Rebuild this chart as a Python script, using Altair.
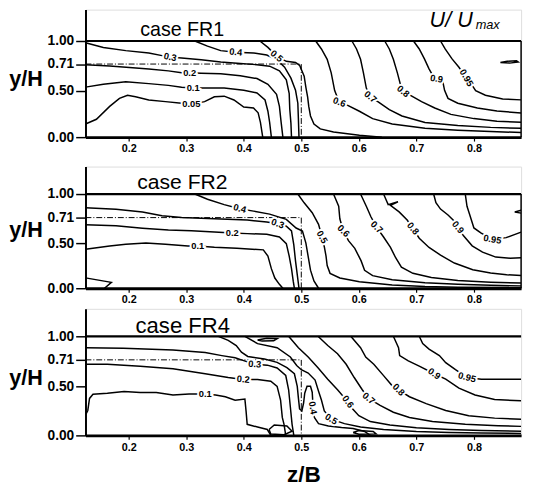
import altair as alt
import pandas as pd

X_MIN, X_MAX = 0.125, 0.882
X_TICKS = [0.2, 0.3, 0.4, 0.5, 0.6, 0.7, 0.8]
Y_TICKS = [0.0, 0.5, 0.71, 1.0]
PANEL_TITLES = ["case FR1", "case FR2", "case FR4"]
PANEL_TITLE_POS = [(0.22, 1.1375), (0.215, 1.135), (0.212, 1.135)]
PANEL_TITLE_SIZE = [20, 21.5, 22.5]
BOUNDARY_Y = 0.71
BOUNDARY_X = 0.5

# ---------------- case FR1 ----------------
fr1_contours = [
    ("0.05", [(0.125, 0.141), (0.144, 0.192), (0.167, 0.330), (0.184, 0.416), (0.198, 0.450), (0.212, 0.433),
              (0.235, 0.399), (0.264, 0.381), (0.292, 0.364), (0.309, 0.352), (0.332, 0.381), (0.349, 0.433),
              (0.366, 0.440), (0.383, 0.399), (0.400, 0.323), (0.417, 0.313), (0.425, 0.261), (0.429, 0.158),
              (0.433, 0.0)]),
    ("0.1", [(0.125, 0.527), (0.156, 0.55), (0.195, 0.57), (0.235, 0.555), (0.269, 0.541), (0.292, 0.527),
             (0.312, 0.52), (0.332, 0.52), (0.366, 0.52), (0.400, 0.502), (0.423, 0.474), (0.437, 0.399),
             (0.442, 0.278), (0.445, 0.158), (0.448, 0.0)]),
    ("0.2", [(0.125, 0.705), (0.167, 0.694), (0.207, 0.681), (0.235, 0.67), (0.269, 0.656), (0.292, 0.641),
             (0.306, 0.641), (0.326, 0.637), (0.360, 0.633), (0.394, 0.618), (0.423, 0.595), (0.442, 0.55),
             (0.457, 0.46), (0.462, 0.33), (0.465, 0.158), (0.468, 0.0)]),
    ("0.3", [(0.125, 0.977), (0.156, 0.918), (0.195, 0.879), (0.235, 0.85), (0.258, 0.816), (0.272, 0.797),
             (0.292, 0.786), (0.326, 0.764), (0.360, 0.737), (0.394, 0.717), (0.423, 0.705), (0.445, 0.693),
             (0.462, 0.657), (0.474, 0.585), (0.479, 0.467), (0.48, 0.30), (0.482, 0.15), (0.483, 0.0)]),
    ("0.4", [(0.315, 1.0), (0.337, 0.935), (0.360, 0.879), (0.386, 0.858), (0.417, 0.85), (0.44, 0.824),
             (0.457, 0.767), (0.471, 0.685), (0.482, 0.598), (0.49, 0.502), (0.494, 0.364), (0.495, 0.192),
             (0.496, 0.0)]),
    ("0.5", [(0.428, 1.0), (0.442, 0.92), (0.457, 0.81), (0.474, 0.745), (0.49, 0.73), (0.497, 0.70),
             (0.505, 0.614), (0.508, 0.526), (0.511, 0.433), (0.513, 0.33), (0.516, 0.227), (0.522, 0.141),
             (0.533, 0.089), (0.556, 0.055), (0.601, 0.02), (0.64, 0.0)]),
    ("0.6", [(0.525, 1.0), (0.535, 0.90), (0.545, 0.77), (0.552, 0.64), (0.558, 0.50), (0.565, 0.39),
             (0.579, 0.347), (0.601, 0.278), (0.624, 0.199), (0.658, 0.141), (0.715, 0.096), (0.772, 0.075),
             (0.829, 0.06), (0.882, 0.05)]),
    ("0.7", [(0.588, 1.0), (0.596, 0.90), (0.603, 0.77), (0.608, 0.64), (0.613, 0.52), (0.62, 0.433),
             (0.633, 0.381), (0.653, 0.296), (0.675, 0.227), (0.715, 0.158), (0.772, 0.125), (0.829, 0.105),
             (0.882, 0.095)]),
    ("0.8", [(0.645, 1.0), (0.653, 0.90), (0.660, 0.77), (0.667, 0.64), (0.675, 0.50), (0.689, 0.45),
             (0.709, 0.381), (0.732, 0.313), (0.760, 0.244), (0.80, 0.199), (0.84, 0.17), (0.882, 0.16)]),
    ("0.9", [(0.695, 1.0), (0.705, 0.90), (0.714, 0.775), (0.722, 0.672), (0.732, 0.59), (0.746, 0.57),
             (0.749, 0.502), (0.755, 0.416), (0.772, 0.364), (0.806, 0.313), (0.84, 0.28), (0.882, 0.26)]),
    ("0.95", [(0.742, 1.0), (0.750, 0.90), (0.762, 0.775), (0.774, 0.685), (0.786, 0.604), (0.797, 0.541),
              (0.803, 0.50), (0.82, 0.45), (0.85, 0.41), (0.882, 0.40)]),
    ("loop", [(0.846, 0.73), (0.858, 0.745), (0.874, 0.752), (0.877, 0.737), (0.862, 0.722), (0.846, 0.73)]),
]
fr1_labels = [("0.05", 0.309, 0.352, 0), ("0.1", 0.312, 0.52, 0), ("0.2", 0.306, 0.641, 0),
              ("0.3", 0.272, 0.797, 12), ("0.4", 0.386, 0.858, 6), ("0.5", 0.457, 0.81, 40),
              ("0.6", 0.566, 0.375, 20), ("0.7", 0.62, 0.433, 40), ("0.8", 0.677, 0.49, 40),
              ("0.9", 0.735, 0.592, 10), ("0.95", 0.787, 0.60, 60)]

# ---------------- case FR2 ----------------
fr2_contours = [
    ("0.1", [(0.125, 0.432), (0.167, 0.467), (0.195, 0.487), (0.23, 0.501), (0.264, 0.487), (0.303, 0.467),
             (0.320, 0.467), (0.349, 0.453), (0.388, 0.442), (0.434, 0.425), (0.442, 0.356), (0.448, 0.217),
             (0.454, 0.113), (0.462, 0.043), (0.468, 0.0)]),
    ("0.2", [(0.125, 0.652), (0.178, 0.643), (0.224, 0.623), (0.269, 0.607), (0.309, 0.601), (0.349, 0.592),
             (0.380, 0.584), (0.406, 0.578), (0.44, 0.573), (0.462, 0.55), (0.474, 0.494), (0.479, 0.356),
             (0.483, 0.217), (0.486, 0.078), (0.488, 0.0)]),
    ("0.3", [(0.125, 0.832), (0.178, 0.812), (0.224, 0.78), (0.258, 0.732), (0.292, 0.712), (0.349, 0.701),
             (0.406, 0.69), (0.44, 0.674), (0.459, 0.659), (0.474, 0.639), (0.483, 0.60), (0.487, 0.48),
             (0.49, 0.30), (0.493, 0.15), (0.496, 0.0)]),
    ("0.4", [(0.315, 1.0), (0.337, 0.936), (0.366, 0.87), (0.393, 0.82), (0.417, 0.79), (0.445, 0.753),
             (0.474, 0.695), (0.491, 0.624), (0.502, 0.60), (0.508, 0.5), (0.512, 0.35), (0.516, 0.2),
             (0.522, 0.08), (0.53, 0.0)]),
    ("0.5", [(0.494, 1.0), (0.505, 0.892), (0.519, 0.77), (0.530, 0.654), (0.536, 0.55), (0.540, 0.46),
             (0.543, 0.356), (0.545, 0.251), (0.550, 0.165), (0.567, 0.113), (0.601, 0.071), (0.658, 0.036),
             (0.715, 0.019), (0.772, 0.012), (0.882, 0.008)]),
    ("0.6", [(0.556, 1.0), (0.565, 0.85), (0.567, 0.70), (0.573, 0.60), (0.582, 0.52), (0.593, 0.442),
             (0.604, 0.303), (0.61, 0.199), (0.624, 0.14), (0.658, 0.095), (0.715, 0.06), (0.772, 0.043),
             (0.829, 0.033), (0.882, 0.026)]),
    ("0.7", [(0.603, 1.0), (0.613, 0.85), (0.621, 0.72), (0.631, 0.63), (0.643, 0.55), (0.655, 0.452),
             (0.664, 0.338), (0.674, 0.234), (0.694, 0.165), (0.726, 0.12), (0.772, 0.085), (0.829, 0.067),
             (0.882, 0.057)]),
    ("0.8", [(0.643, 1.0), (0.651, 0.87), (0.668, 0.905), (0.655, 0.86), (0.670, 0.78), (0.684, 0.69),
             (0.694, 0.62), (0.705, 0.54), (0.722, 0.452), (0.742, 0.366), (0.766, 0.279), (0.798, 0.205),
             (0.829, 0.168), (0.857, 0.149), (0.882, 0.142)]),
    ("0.9", [(0.730, 1.0), (0.734, 0.893), (0.742, 0.815), (0.755, 0.742), (0.766, 0.68), (0.772, 0.63),
             (0.782, 0.56), (0.797, 0.47), (0.815, 0.40), (0.838, 0.345), (0.863, 0.332), (0.882, 0.338)]),
    ("0.95", [(0.785, 1.0), (0.788, 0.85), (0.793, 0.74), (0.800, 0.625), (0.812, 0.585), (0.832, 0.53),
              (0.856, 0.545), (0.882, 0.59)]),
    ("edge", [(0.882, 0.80), (0.871, 0.78), (0.882, 0.765)]),
    ("corner", [(0.125, 0.115), (0.17, 0.065), (0.158, 0.0)]),
]
fr2_labels = [("0.1", 0.32, 0.467, 0), ("0.2", 0.38, 0.584, 0), ("0.3", 0.459, 0.659, 20),
              ("0.4", 0.393, 0.82, 15), ("0.5", 0.536, 0.55, 60), ("0.6", 0.573, 0.60, 45),
              ("0.7", 0.631, 0.63, 45), ("0.8", 0.694, 0.62, 50), ("0.9", 0.772, 0.63, 50),
              ("0.95", 0.832, 0.53, 10)]

# ---------------- case FR4 ----------------
fr4_contours = [
    ("0.1", [(0.126, 0.22), (0.129, 0.254), (0.132, 0.377), (0.138, 0.419), (0.163, 0.430), (0.192, 0.447),
             (0.22, 0.437), (0.248, 0.437), (0.277, 0.412), (0.305, 0.423), (0.322, 0.423), (0.333, 0.423),
             (0.351, 0.412), (0.368, 0.394), (0.385, 0.359), (0.402, 0.37), (0.404, 0.25), (0.406, 0.113),
             (0.424, 0.085), (0.441, 0.06), (0.447, 0.0)]),
    ("0.2", [(0.125, 0.675), (0.163, 0.675), (0.22, 0.66), (0.277, 0.64), (0.333, 0.60), (0.373, 0.57),
             (0.399, 0.555), (0.424, 0.555), (0.447, 0.54), (0.458, 0.50), (0.464, 0.359), (0.467, 0.183),
             (0.47, 0.113), (0.473, 0.0)]),
    ("0.3", [(0.125, 0.86), (0.191, 0.852), (0.277, 0.83), (0.333, 0.80), (0.362, 0.762), (0.385, 0.735),
             (0.396, 0.71), (0.419, 0.675), (0.441, 0.668), (0.458, 0.646), (0.473, 0.586), (0.478, 0.465),
             (0.481, 0.289), (0.484, 0.113), (0.487, 0.0)]),
    ("0.4", [(0.356, 1.0), (0.373, 0.949), (0.387, 0.886), (0.396, 0.805), (0.407, 0.752), (0.436, 0.72),
             (0.458, 0.69), (0.475, 0.648), (0.488, 0.60), (0.493, 0.50), (0.495, 0.38), (0.497, 0.27),
             (0.501, 0.25), (0.504, 0.33), (0.506, 0.43), (0.51, 0.50), (0.516, 0.50), (0.519, 0.44),
             (0.52, 0.34), (0.52, 0.26), (0.523, 0.18), (0.53, 0.12), (0.547, 0.095), (0.57, 0.08),
             (0.59, 0.07), (0.61, 0.04), (0.62, 0.0)]),
    ("0.5", [(0.402, 1.0), (0.424, 0.91), (0.458, 0.86), (0.481, 0.745), (0.492, 0.665), (0.50, 0.632),
             (0.512, 0.605), (0.524, 0.55), (0.53, 0.45), (0.535, 0.36), (0.54, 0.25), (0.552, 0.165),
             (0.575, 0.12), (0.603, 0.085), (0.643, 0.06), (0.70, 0.04), (0.757, 0.03), (0.813, 0.025),
             (0.882, 0.02)]),
    ("0.6", [(0.478, 1.0), (0.495, 0.86), (0.512, 0.745), (0.529, 0.648), (0.546, 0.557), (0.563, 0.465),
             (0.581, 0.342), (0.589, 0.271), (0.600, 0.201), (0.62, 0.141), (0.654, 0.106), (0.70, 0.077),
             (0.757, 0.06), (0.813, 0.049), (0.882, 0.042)]),
    ("0.7", [(0.529, 1.0), (0.546, 0.886), (0.563, 0.785), (0.578, 0.675), (0.592, 0.57), (0.606, 0.465),
             (0.617, 0.377), (0.637, 0.306), (0.660, 0.236), (0.688, 0.183), (0.728, 0.141), (0.785, 0.113),
             (0.842, 0.099), (0.882, 0.092)]),
    ("0.8", [(0.586, 1.0), (0.603, 0.86), (0.612, 0.745), (0.626, 0.675), (0.643, 0.585), (0.657, 0.51),
             (0.669, 0.465), (0.688, 0.394), (0.717, 0.324), (0.751, 0.254), (0.791, 0.201), (0.836, 0.176),
             (0.882, 0.165)]),
    ("0.9", [(0.660, 1.0), (0.669, 0.86), (0.671, 0.763), (0.686, 0.702), (0.705, 0.66), (0.731, 0.60),
             (0.751, 0.557), (0.774, 0.482), (0.802, 0.412), (0.836, 0.366), (0.882, 0.352)]),
    ("0.95", [(0.705, 1.0), (0.711, 0.91), (0.722, 0.843), (0.74, 0.763), (0.751, 0.688), (0.768, 0.632),
              (0.788, 0.57), (0.813, 0.557), (0.842, 0.557), (0.882, 0.557)]),
    ("top loop", [(0.424, 0.955), (0.44, 0.975), (0.458, 0.97), (0.452, 0.945), (0.432, 0.942), (0.424, 0.955)]),
    ("bottom loop", [(0.444, 0.06), (0.453, 0.106), (0.475, 0.095), (0.484, 0.042), (0.47, 0.007),
                     (0.447, 0.014), (0.444, 0.06)]),
    ("bottom loop 2", [(0.59, 0.03), (0.60, 0.05), (0.625, 0.04), (0.63, 0.015), (0.60, 0.012), (0.59, 0.03)]),
]
fr4_labels = [("0.1", 0.333, 0.423, 0), ("0.2", 0.399, 0.555, 5), ("0.3", 0.419, 0.675, 5),
              ("0.4", 0.52, 0.28, 80), ("0.5", 0.552, 0.165, 30), ("0.6", 0.581, 0.342, 55),
              ("0.7", 0.617, 0.377, 40), ("0.8", 0.669, 0.465, 45), ("0.9", 0.731, 0.60, 35),
              ("0.95", 0.788, 0.57, 15)]

FONT = "Liberation Sans"


def contour_frame(contours):
    rows = []
    for i, (lvl, pts) in enumerate(contours):
        for j, (x, y) in enumerate(pts):
            rows.append({"seg": f"{i}_{lvl}", "o": j, "x": x, "y": y})
    return pd.DataFrame(rows)


def panel(contours, labels, title, title_pos, title_size, ytitle_y, y_domain, y_range, last,
          right_border, umax):
    xs = alt.Scale(domain=[X_MIN, X_MAX], nice=False, zero=False)
    ys = alt.Scale(domain=y_domain, range=y_range, nice=False, zero=False)
    xaxis = alt.Axis(values=X_TICKS, format=".1f", labelFont=FONT, labelFontSize=11, labelFontWeight="bold",
                     labelColor="black", tickSize=4, tickColor="black", tickWidth=1.2, domainColor="black",
                     domainWidth=3, labelPadding=2, grid=False,
                     titleFont=FONT, titleFontSize=23, titleFontWeight="bold", titleColor="black",
                     titlePadding=12)
    yaxis = alt.Axis(values=Y_TICKS, format=".2f", labelFont=FONT, labelFontSize=14, labelFontWeight="bold",
                     labelColor="black", tickSize=10, tickColor="black", tickWidth=1.5, domainColor="black",
                     domainWidth=2, labelPadding=2, grid=False,
                     title="y/H", titleAngle=0, titleFont=FONT, titleFontSize=22, titleFontWeight="bold",
                     titleColor="black", titleAlign="right", titleBaseline="middle", titleX=-44, titleY=ytitle_y)
    if last:
        X = alt.X("x:Q", scale=xs, axis=xaxis, title="z/B")
    else:
        X = alt.X("x:Q", scale=xs, axis=xaxis, title=None)
    Y = alt.Y("y:Q", scale=ys, axis=yaxis)

    df = contour_frame(contours)
    lines = alt.Chart(df).mark_line(color="black", strokeWidth=1.5, clip=True, interpolate="linear").encode(
        x=X, y=Y, detail="seg:N", order="o:Q")

    dash_df = pd.DataFrame({"x": [X_MIN, BOUNDARY_X, BOUNDARY_X], "y": [BOUNDARY_Y, BOUNDARY_Y, 0.0],
                            "o": [0, 1, 2]})
    dashed = alt.Chart(dash_df).mark_line(color="black", strokeWidth=1, strokeDash=[6, 2, 1, 2]).encode(
        x=alt.X("x:Q", scale=xs), y=alt.Y("y:Q", scale=ys), order="o:Q")

    top_df = pd.DataFrame({"x": [X_MIN, X_MAX], "y": [1.0, 1.0]})
    top = alt.Chart(top_df).mark_line(color="black", strokeWidth=2.2).encode(
        x=alt.X("x:Q", scale=xs), y=alt.Y("y:Q", scale=ys))

    layers = [lines, dashed, top]
    if right_border:
        rb_df = pd.DataFrame({"x": [X_MAX, X_MAX], "y": [0.0, 1.0]})
        layers.append(alt.Chart(rb_df).mark_line(color="black", strokeWidth=1.5).encode(
            x=alt.X("x:Q", scale=xs), y=alt.Y("y:Q", scale=ys)))

    lab_df = pd.DataFrame(labels, columns=["t", "x", "y", "a"])
    halo = alt.Chart(lab_df).mark_text(font=FONT, fontSize=9.5, fontWeight="bold", fill="white",
                                       stroke="white", strokeWidth=4, align="center",
                                       baseline="middle").encode(
        x=alt.X("x:Q", scale=xs), y=alt.Y("y:Q", scale=ys), text="t:N", angle=alt.Angle("a:Q", scale=None))
    txt = alt.Chart(lab_df).mark_text(font=FONT, fontSize=9.5, fontWeight="bold", color="black",
                                      align="center", baseline="middle").encode(
        x=alt.X("x:Q", scale=xs), y=alt.Y("y:Q", scale=ys), text="t:N", angle=alt.Angle("a:Q", scale=None))
    layers += [halo, txt]

    t_df = pd.DataFrame({"t": [title], "x": [title_pos[0]], "y": [title_pos[1]]})
    layers.append(alt.Chart(t_df).mark_text(font=FONT, fontSize=title_size, color="black", align="left",
                                            baseline="middle").encode(
        x=alt.X("x:Q", scale=xs), y=alt.Y("y:Q", scale=ys), text="t:N"))

    if umax:
        u_df = pd.DataFrame({"t": ["U/ U"], "x": [0.723], "y": [1.26]})
        m_df = pd.DataFrame({"t": ["max"], "x": [0.803], "y": [1.2]})
        layers.append(alt.Chart(u_df).mark_text(font=FONT, fontSize=22, fontStyle="italic", color="black",
                                                align="left", baseline="middle").encode(
            x=alt.X("x:Q", scale=xs), y=alt.Y("y:Q", scale=ys), text="t:N"))
        layers.append(alt.Chart(m_df).mark_text(font=FONT, fontSize=13, fontStyle="italic", color="black",
                                                align="left", baseline="middle").encode(
            x=alt.X("x:Q", scale=xs), y=alt.Y("y:Q", scale=ys), text="t:N"))

    return alt.layer(*layers).properties(width=444, height=y_range[0])


p1 = panel(fr1_contours, fr1_labels, PANEL_TITLES[0], PANEL_TITLE_POS[0], PANEL_TITLE_SIZE[0], 70,
           [0, 0.5, 0.71, 1.0, 1.4], [130, 82.5, 55.5, 32, 0], False, True, True)
p2 = panel(fr2_contours, fr2_labels, PANEL_TITLES[1], PANEL_TITLE_POS[1], PANEL_TITLE_SIZE[1], 64,
           [0, 0.5, 0.71, 1.0, 1.35], [124, 78, 52, 28, 0], False, True, False)
p3 = panel(fr4_contours, fr4_labels, PANEL_TITLES[2], PANEL_TITLE_POS[2], PANEL_TITLE_SIZE[2], 70,
           [0, 0.5, 0.71, 1.0, 1.35], [129, 79, 52, 28, 0], True, False, False)

lower = alt.vconcat(p2, p3, spacing=2)
chart = alt.vconcat(p1, lower, spacing=11).properties(
    padding={"left": 0, "top": -4, "right": 0, "bottom": -3}
).configure_view(strokeWidth=0).configure(background="white")

chart.save("out.html", embed_options={"renderer": "svg", "actions": False})
